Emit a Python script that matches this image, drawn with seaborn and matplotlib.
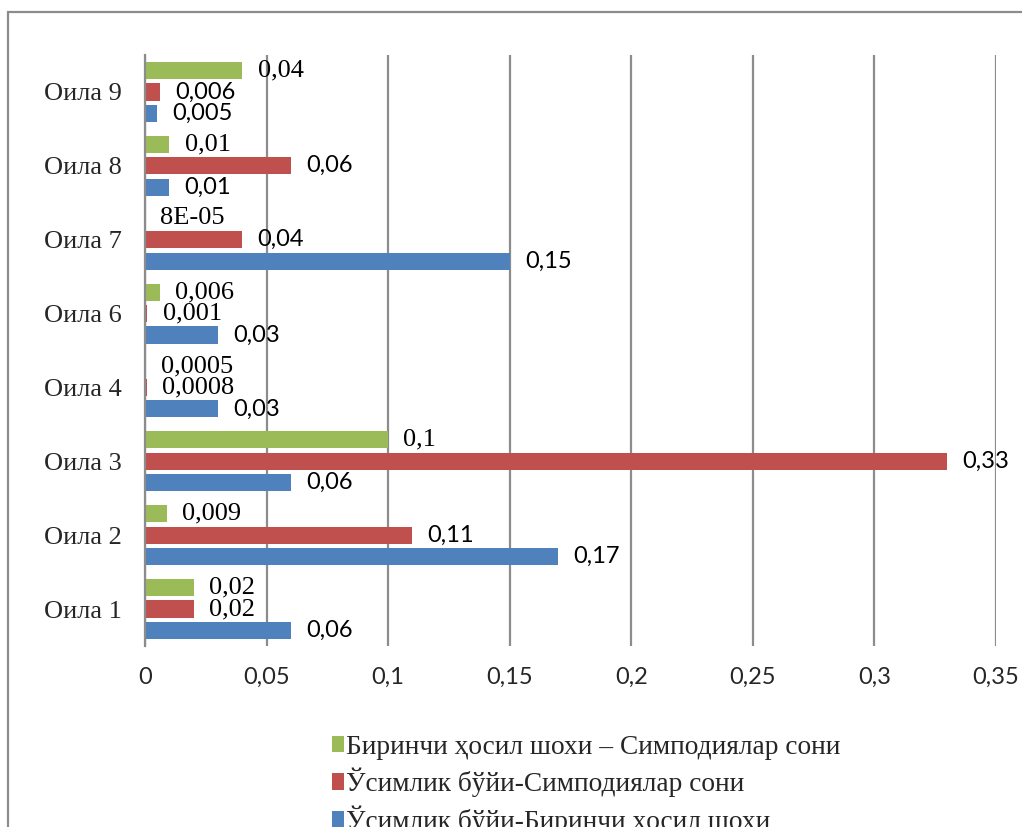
import numpy as np
import pandas as pd
import matplotlib
matplotlib.use("Agg")
import matplotlib.pyplot as plt
import seaborn as sns
from matplotlib.patches import Rectangle

# ---------------------------------------------------------------
# data
# ---------------------------------------------------------------
families = ["Оила 9", "Оила 8", "Оила 7", "Оила 6", "Оила 4", "Оила 3", "Оила 2", "Оила 1"]
series = [
    "Биринчи ҳосил шохи – Симподиялар сони",
    "Ўсимлик бўйи-Симподиялар сони",
    "Ўсимлик бўйи-Биринчи ҳосил шохи",
]
green_vals = [0.04, 0.01, 0.00008, 0.006, 0.0005, 0.1, 0.009, 0.02]
red_vals = [0.006, 0.06, 0.04, 0.001, 0.0008, 0.33, 0.11, 0.02]
blue_vals = [0.005, 0.01, 0.15, 0.03, 0.03, 0.06, 0.17, 0.06]

green_labels = ["0,04", "0,01", "8E-05", "0,006", "0,0005", "0,1", "0,009", "0,02"]
red_labels = ["0,006", "0,06", "0,04", "0,001", "0,0008", "0,33", "0,11", "0,02"]
blue_labels = ["0,005", "0,01", "0,15", "0,03", "0,03", "0,06", "0,17", "0,06"]

x_ticks = [0, 0.05, 0.1, 0.15, 0.2, 0.25, 0.3, 0.35]
x_tick_labels = ["0", "0,05", "0,1", "0,15", "0,2", "0,25", "0,3", "0,35"]

# ---------------------------------------------------------------
# style
# ---------------------------------------------------------------
colors = ["#9BBB59", "#C0504D", "#4F81BD"]
serif = ["Liberation Serif", "DejaVu Serif"]
sans = ["Lato", "DejaVu Sans"]
grid_col = "#8c8c8c"
# which red data labels are set in the serif face (as in the original export)
serif_red = {"Оила 1", "Оила 4", "Оила 6"}

sns.set_theme(style="white")
plt.rcParams["font.family"] = serif

rows = []
for s, vals in zip(series, [green_vals, red_vals, blue_vals]):
    for f, v in zip(families, vals):
        rows.append({"family": f, "series": s, "value": v})
df = pd.DataFrame(rows)

fig = plt.figure(figsize=(10.22, 8.27), dpi=100)
ax = fig.add_axes([145 / 1022, 1 - 646 / 827, (996 - 145) / 1022, (646 - 55) / 827])

sns.barplot(data=df, y="family", x="value", hue="series", order=families,
            hue_order=series, palette=colors, saturation=1, orient="h",
            width=0.87, gap=0.2, linewidth=0, ax=ax)

ax.set_xlim(0, 0.35)
ax.set_ylim(len(families) - 0.5, -0.5)
ax.set_xticks(x_ticks)
ax.set_xticklabels(x_tick_labels, fontsize=17, family=sans)
ax.tick_params(axis="x", length=0, pad=15)
ax.tick_params(axis="y", length=0, pad=17, labelsize=19)
for t in ax.get_yticklabels():
    t.set_family(serif)
ax.set_xlabel("")
ax.set_ylabel("")
ax.grid(axis="x", color=grid_col, linewidth=1.6)
ax.set_axisbelow(True)
for side in ["top", "right", "bottom"]:
    ax.spines[side].set_visible(False)
ax.spines["left"].set_color(grid_col)
ax.spines["left"].set_linewidth(1.6)

# data labels
label_sets = [green_labels, red_labels, blue_labels]
for k, cont in enumerate(ax.containers):
    for bar in cont:
        yc = bar.get_y() + bar.get_height() / 2
        idx = int(round(yc))
        fam = families[idx]
        txt = label_sets[k][idx]
        use_serif = (k == 0) or (k == 1 and fam in serif_red)
        ax.annotate(txt, xy=(bar.get_width(), yc), xytext=(11, 0),
                    textcoords="offset points", va="center", ha="left",
                    fontsize=19 if use_serif else 17,
                    family=serif if use_serif else sans, color="black")

# legend below the plot
handles, labels = ax.get_legend_handles_labels()
ax.legend_.remove()
fig.legend(handles, labels, loc="upper left",
           bbox_to_anchor=(318 / 1022, 1 - 721 / 827), frameon=False,
           prop={"family": serif, "size": 19.7}, handlelength=0.45,
           handleheight=0.55, handletextpad=0.08, labelspacing=0.3,
           borderpad=0)

# outer chart frame (right and bottom edge fall outside the picture)
fig.patches.append(Rectangle((8 / 1022, -0.05), 1.2, 1 - 12 / 827 + 0.05,
                             transform=fig.transFigure, fill=False,
                             edgecolor=grid_col, linewidth=1.6))

fig.savefig("out.png", dpi=100)
